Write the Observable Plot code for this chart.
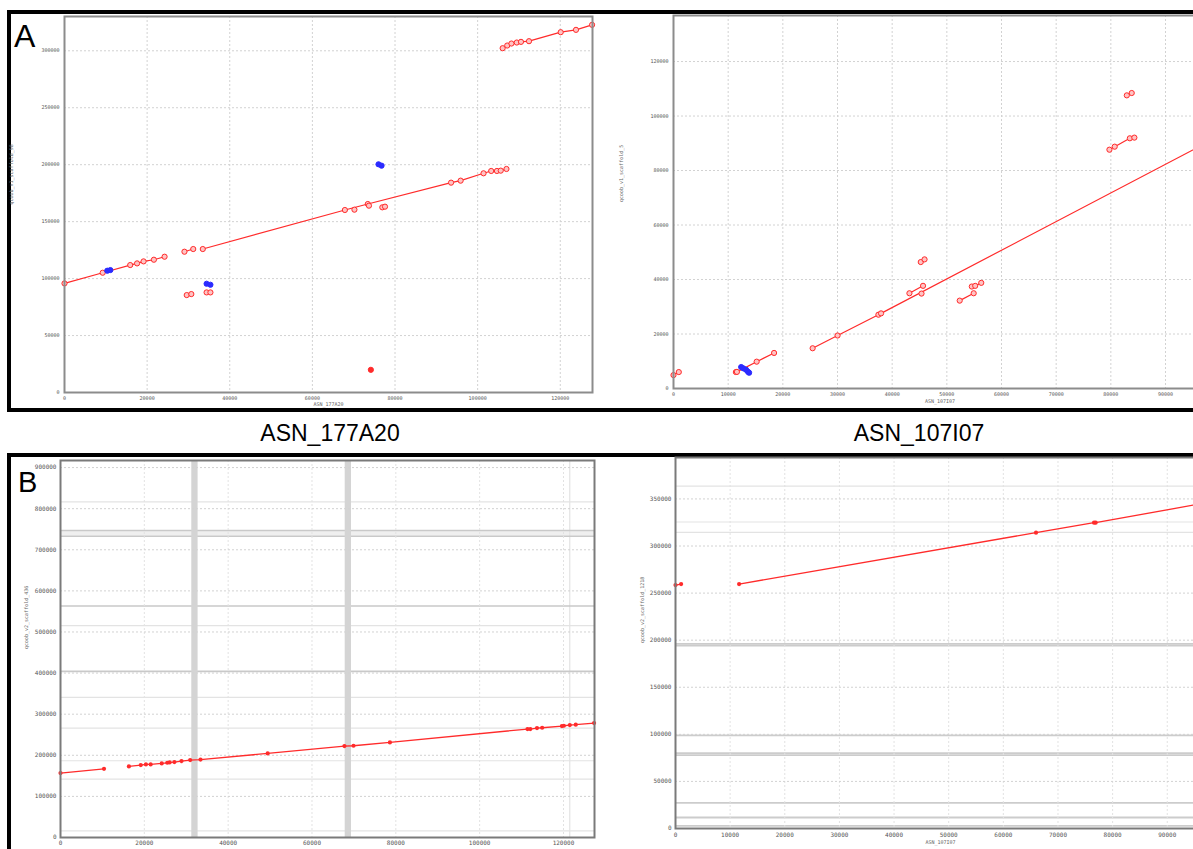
<!DOCTYPE html>
<html><head><meta charset="utf-8">
<script src="https://cdn.jsdelivr.net/npm/d3@7"></script>
<script src="https://cdn.jsdelivr.net/npm/@observablehq/plot@0.6"></script>
<style>
html,body{margin:0;padding:0;background:#fff;overflow:hidden;}
body{width:1193px;height:849px;position:relative;font-family:"Liberation Sans",Arial,sans-serif;}
.box{position:absolute;border:4px solid #000;box-sizing:border-box;}
.panel{position:absolute;}
.letter{position:absolute;font-size:32px;line-height:1;color:#000;}
.title{position:absolute;font-size:23px;line-height:1;color:#000;transform:translateX(-50%);white-space:nowrap;}
</style></head><body>
<div class="box" style="left:7px;top:10px;width:1260px;height:402px"></div>
<div class="box" style="left:7px;top:453px;width:1260px;height:460px"></div>
<div id="aL" class="panel"></div>
<div id="aR" class="panel"></div>
<div id="bL" class="panel"></div>
<div id="bR" class="panel"></div>
<div class="letter" style="left:14px;top:20px">A</div>
<div class="letter" style="left:18px;top:468px;font-size:29px">B</div>
<div class="title" style="left:330px;top:422px">ASN_177A20</div>
<div class="title" style="left:919px;top:422px">ASN_107I07</div>
<script>
// ---------- Panel A, left (ASN_177A20) ----------
const aLeftXTicks = [0,20000,40000,60000,80000,100000,120000];
const aLeftYTicks = [0,50000,100000,150000,200000,250000,300000];
const aLeftSeg = [1,1,1,1,1,1,1, 2,2, 3,3,3,3,3,3,3,3,3,3, 4, 5, 6,6, 7,7, 8,8, 9, 10,10, 11,11, 12,12, 13,13,13,13,13,13,13,13,13];
const aLeftX = [0,9246,15903,17567,19139,21636,24224, 29032,31159, 33471,67866,73413,93570,95882,101429,103278,104665,105590,106977, 70177, 73690, 76927,77574, 29587,30697, 34395,35320, 74153, 10356,11095, 34395,35320, 76002,76742, 106052,107161,108178,109472,110490,112431,120105,123803,127700];
const aLeftY = [95780,105150,111890,113350,115110,116570,119210, 123600,125950, 125950,160220,165490,184230,185980,192440,194490,194490,194780,196240, 160510, 164020, 162560,163150, 85530,86410, 87870,87870, 19920, 106910,107490, 95490,94610, 200340,199170, 302270,304620,306370,307250,307840,308420,316330,318380,322780];
const aLeftBlueSegs = [10,11,12];
const aLeftSolidSegs = [9];

// ---------- Panel A, right (ASN_107I07) ----------
const aRightXTicks = [0,10000,20000,30000,40000,50000,60000,70000,80000,90000];
const aRightYTicks = [0,20000,40000,60000,80000,100000,120000];
const aRightSeg = [1,1, 2,2,2,2, 3,3,3,3,3, 4,4,4,4,4, 5,5, 6, 7,7, 8,8, 9,9,9, 10,10,10,10, 11,11];
const aRightX = [0,968, 11411,11600,15215,18397, 12380,12795,13279,13625,13832, 25451,30015,37484,37968,96000, 43156,45646, 45369, 45231,45923, 52354,54913, 54568,55190,56296, 79741,80709,83476,84306, 82924,83822];
const aRightY = [4924,6032, 6032,6100,9848,13049, 7878,7386,6894,6155,5786, 14772,19450,27082,27574,88600, 34960,37681, 34837, 46409,47394, 32252,34960, 37422,37669,38777, 87647,88755,91833,92079, 107589,108451];
const aRightBlueSegs = [3];

// ---------- Panel B, left (ASN_177A20 vs qcoob_v2_scaffold_436) ----------
const bLeftXTicks = [0,20000,40000,60000,80000,100000,120000];
const bLeftYTicks = [0,100000,200000,300000,400000,500000,600000,700000,800000,900000];
const bLeftSeg = [1,1, 2,2,2,2,2,2,2,2,2,2,2,2,2,2,2,2,2,2,2,2,2,2,2,2];
const bLeftX = [0,10380, 16320,19150,20380,21510,24150,25470,26040,27170,28870,30940,33400,49430,67740,69900,78590,111420,112080,113680,114910,119620,120090,121510,122930,127300];
const bLeftY = [156700,167200, 172900,176100,177800,177800,180200,181800,182600,183400,185900,188300,189500,204500,222400,223200,231300,263800,263800,266200,267000,271100,271900,273500,274400,278400];
const bLeftGapStart = [31320,67920];
const bLeftGapEnd = [32830,69430];
const bLeftScaffoldLines = [746800,733000,563300,404200];
const bLeftFaintLines = [816600,515400,340900,266200,186700,142000,16200];
const bLeftBandLow = [733000];
const bLeftBandHigh = [746800];
const bLeftFaintVLines = [121500];

// ---------- Panel B, right (ASN_107I07 vs qcoob_v2_scaffold_1218) ----------
const bRightXTicks = [0,10000,20000,30000,40000,50000,60000,70000,80000,90000];
const bRightYTicks = [0,50000,100000,150000,200000,250000,300000,350000];
const bRightSeg = [1,1, 2,2,2,2,2];
const bRightX = [0,1030, 11640,65980,76600,76900,96000];
const bRightY = [258500,259600, 259600,314200,324800,324800,344700];
const bRightScaffoldLines = [196100,194300,98900,80100,78000,27300,11700,2800];
const bRightFaintLines = [363500,325500,314500];

const RED = "#ff2b2b", BLUE = "#2b2bff";

function rows(seg, xs, ys, blueSegs = [], solidSegs = []) {
  return seg.map((s, i) => ({seg: s, x: xs[i], y: ys[i], blue: blueSegs.includes(s), solid: solidSegs.includes(s)}));
}

function drawPanel(id, cfg) {
  const ml = 62, mr = 4, mt = 4, mb = 22;
  const w = cfg.R - cfg.L + ml + mr, h = cfg.B - cfg.T + mt + mb;
  const marks = [
    ...(cfg.under || []),
    Plot.gridX(cfg.xTicks, {stroke: cfg.gridXColor || "#d2d2d2", strokeOpacity: 1, strokeDasharray: cfg.gridXDash || "2,2"}),
    Plot.gridY(cfg.yTicks, {stroke: "#d2d2d2", strokeOpacity: 1, strokeDasharray: "2,2"}),
    ...(cfg.over || []),
    Plot.frame({stroke: cfg.frameColor || "#8c8c8c", strokeWidth: 2}),
    Plot.axisX({ticks: cfg.xTicks, tickSize: 0, tickPadding: cfg.padX, tickFormat: d => String(d), label: null}),
    Plot.axisY({ticks: cfg.yTicks, tickSize: 0, tickPadding: cfg.padY, tickFormat: d => String(d), label: null}),
    Plot.text([cfg.yTitle], {frameAnchor: "left", dx: cfg.yTitleDx, rotate: -90, fontSize: cfg.titleSize, fill: "#666"}),
    ...(cfg.xTitle ? [Plot.text([cfg.xTitle], {frameAnchor: "bottom", dy: cfg.xTitleDy, fontSize: cfg.titleSize, fill: "#666"})] : [])
  ];
  const svg = Plot.plot({
    width: w, height: h, marginLeft: ml, marginRight: mr, marginTop: mt, marginBottom: mb,
    x: {domain: cfg.xDomain}, y: {domain: cfg.yDomain},
    style: {background: "transparent", fontFamily: "'DejaVu Sans Mono', monospace", fontSize: cfg.fs + "px", color: "#555"},
    marks
  });
  svg.style.maxWidth = "none";
  const el = document.getElementById(id);
  el.style.left = (cfg.L - ml) + "px";
  el.style.top = (cfg.T - mt) + "px";
  el.style.width = w + "px";
  el.style.height = h + "px";
  el.appendChild(svg);
}

function dotPlotMarks(data) {
  const red = data.filter(d => !d.blue), blue = data.filter(d => d.blue);
  return [
    Plot.line(red, {x: "x", y: "y", z: "seg", stroke: RED, strokeWidth: 1.2}),
    Plot.line(blue, {x: "x", y: "y", z: "seg", stroke: BLUE, strokeWidth: 1.2}),
    Plot.dot(red, {x: "x", y: "y", r: 2.6, stroke: RED, strokeWidth: 1, fill: d => d.solid ? RED : "#ffc4c4"}),
    Plot.dot(blue, {x: "x", y: "y", r: 2.6, stroke: BLUE, strokeWidth: 1, fill: BLUE})
  ];
}

drawPanel("aL", {
  L: 64, R: 592, T: 16, B: 392,
  xDomain: [0, 127800], yDomain: [0, 330100],
  xTicks: aLeftXTicks, yTicks: aLeftYTicks, fs: 5, padX: 4, padY: 5, titleSize: 5,
  yTitle: "qcoob_v1_scaffold_98", yTitleDx: -53, xTitle: "ASN_177A20", xTitleDy: 13,
  over: dotPlotMarks(rows(aLeftSeg, aLeftX, aLeftY, aLeftBlueSegs, aLeftSolidSegs))
});

drawPanel("aR", {
  L: 673, R: 1206, T: 15, B: 388,
  xDomain: [0, 97500], yDomain: [0, 136900],
  xTicks: aRightXTicks, yTicks: aRightYTicks, fs: 5, padX: 4, padY: 5, titleSize: 5,
  yTitle: "qcoob_v1_scaffold_5", yTitleDx: -52, xTitle: "ASN_107I07", xTitleDy: 14,
  over: dotPlotMarks(rows(aRightSeg, aRightX, aRightY, aRightBlueSegs))
});

function bMarks(data) {
  return [
    Plot.line(data, {x: "x", y: "y", z: "seg", stroke: RED, strokeWidth: 1.3}),
    Plot.dot(data, {x: "x", y: "y", r: 2.1, fill: RED, stroke: "none"})
  ];
}

drawPanel("bL", {
  L: 60, R: 594, T: 460, B: 837,
  xDomain: [0, 127400], yDomain: [0, 917200],
  xTicks: bLeftXTicks, yTicks: bLeftYTicks, fs: 6, padX: 3, padY: 4, titleSize: 5,
  gridXColor: "#e2e2e2", gridXDash: null, frameColor: "#7a7a7a",
  yTitle: "qcoob_v2_scaffold_436", yTitleDx: -34,
  under: [
    Plot.rect(bLeftBandLow.map((v, i) => ({lo: v, hi: bLeftBandHigh[i]})), {x1: () => 0, x2: () => 127400, y1: "lo", y2: "hi", fill: "#efefef"}),
    Plot.ruleY(bLeftFaintLines, {stroke: "#e3e3e3", strokeWidth: 1.2}),
    Plot.ruleX(bLeftFaintVLines, {stroke: "#e3e3e3", strokeWidth: 1.2}),
    Plot.ruleY(bLeftScaffoldLines, {stroke: "#c9c9c9", strokeWidth: 1.6}),
    Plot.rect(bLeftGapStart.map((v, i) => ({a: v, b: bLeftGapEnd[i]})), {x1: "a", x2: "b", y1: () => 0, y2: () => 917200, fill: "#d4d4d4"})
  ],
  over: bMarks(rows(bLeftSeg, bLeftX, bLeftY))
});

drawPanel("bR", {
  L: 675, R: 1205, T: 457, B: 828,
  xDomain: [0, 97000], yDomain: [0, 394000],
  xTicks: bRightXTicks, yTicks: bRightYTicks, fs: 6, padX: 4, padY: 4, titleSize: 5,
  gridXColor: "#e2e2e2", gridXDash: null, frameColor: "#7a7a7a",
  yTitle: "qcoob_v2_scaffold_1218", yTitleDx: -33, xTitle: "ASN_107I07", xTitleDy: 15,
  under: [
    Plot.ruleY(bRightFaintLines, {stroke: "#e3e3e3", strokeWidth: 1.2}),
    Plot.ruleY(bRightScaffoldLines, {stroke: "#cccccc", strokeWidth: 1.8})
  ],
  over: bMarks(rows(bRightSeg, bRightX, bRightY))
});
</script>
</body></html>
